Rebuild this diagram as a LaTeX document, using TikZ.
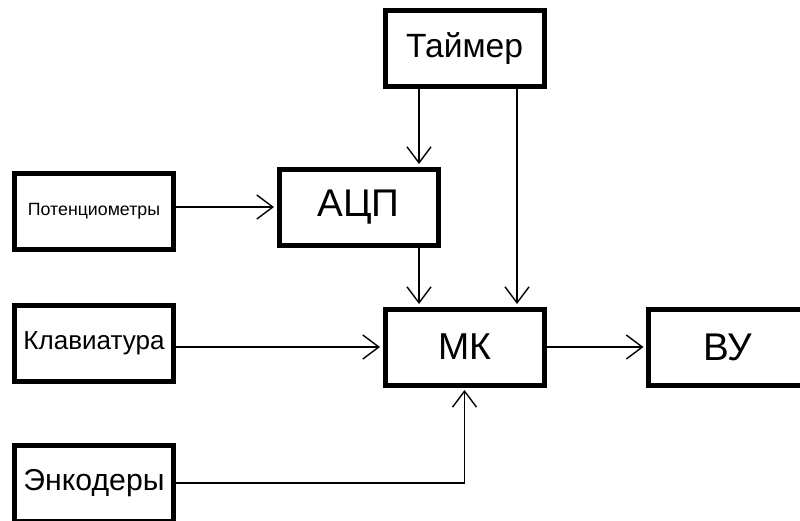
\documentclass[tikz,border=0pt]{standalone}
\usepackage{fontspec}
\setmainfont{Liberation Sans}
\usetikzlibrary{arrows.meta,calc}
\tikzset{
 blk/.style={draw=black, line width=5pt, minimum width=159pt, minimum height=76pt, inner sep=0pt, anchor=center},
 arr/.style={-{Straight Barb[length=16pt,width=24pt,line width=1.4pt]}, line width=1.4pt, shorten >=2.5pt},
 ln/.style={line width=1.4pt}
}
\begin{document}
\begin{tikzpicture}[x=1pt,y=-1pt]
\useasboundingbox (0,0) rectangle (800,520);
\fill[white] (0,0) rectangle (800,520);
\node[blk] (tim) at (464.5,48.5) {\resizebox{117pt}{!}{Таймер}};
\node[blk] (adc) at (358.5,207) {\resizebox{82pt}{!}{АЦП}};
\node[blk] (pot) at (94,211.5) {\resizebox{132pt}{!}{Потенциометры}};
\node[blk] (kl) at (94,343) {\resizebox{141pt}{!}{Клавиатура}};
\node[blk] (mk) at (464.5,347) {\resizebox{53pt}{!}{МК}};
\node[blk] (vu) at (728,347) {\resizebox{49pt}{!}{ВУ}};
\node[blk] (enc) at (94,483) {\resizebox{141pt}{!}{Энкодеры}};
\coordinate (xa) at (419,0);
\coordinate (xb) at (517,0);
\draw[arr] (tim.south -| xa) -- (adc.north -| xa);
\draw[arr] (tim.south -| xb) -- (mk.north -| xb);
\draw[arr] (adc.south -| xa) -- (mk.north -| xa);
\draw[arr] (pot.east |- adc.west) -- (adc.west);
\draw[arr] (kl.east |- mk.west) -- (mk.west);
\draw[arr] (mk.east) -- (vu.west);
\draw[arr] (enc.east) -| (mk.south);
\end{tikzpicture}
\end{document}
